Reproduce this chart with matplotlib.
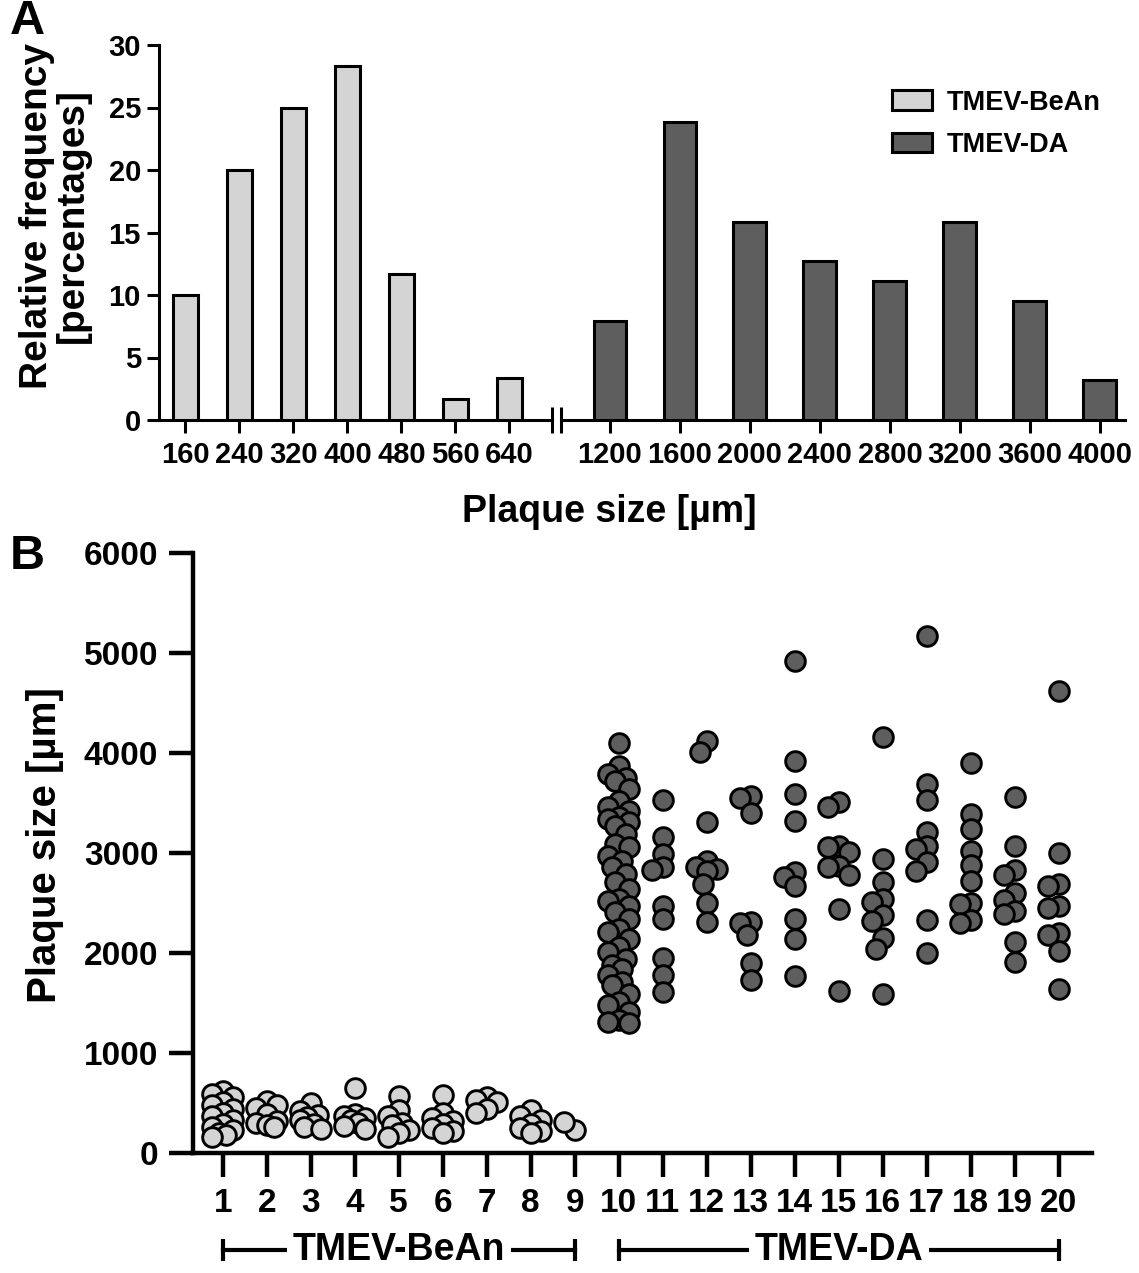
import numpy as np
import matplotlib
matplotlib.use("Agg")
import matplotlib.pyplot as plt
from matplotlib.transforms import blended_transform_factory

plt.rcParams['font.family'] = ['Liberation Sans', 'DejaVu Sans']
plt.rcParams['font.weight'] = 'bold'

BEAN_COLOR = '#d4d4d4'
DA_COLOR = '#5e5e5e'

# panel A: relative frequency of plaque sizes
bean_bins = ['160', '240', '320', '400', '480', '560', '640']
bean_freq = [10.0, 20.0, 25.0, 28.33, 11.67, 1.67, 3.33]
da_bins = ['1200', '1600', '2000', '2400', '2800', '3200', '3600', '4000']
da_freq = [7.94, 23.81, 15.87, 12.70, 11.11, 15.87, 9.52, 3.17]

# panel B: plaque size per isolate (µm)
iso1 = [620, 590, 560, 510, 480, 440, 400, 370, 330, 290, 260, 230, 200, 180, 160]
iso2 = [520, 480, 450, 390, 320, 300, 280, 260]
iso3 = [500, 420, 380, 360, 330, 290, 260, 240]
iso4 = [650, 390, 370, 350, 330, 300, 270, 240]
iso5 = [570, 430, 370, 300, 280, 230, 200, 160]
iso6 = [580, 400, 350, 320, 290, 250, 220, 200]
iso7 = [560, 530, 510, 440, 400]
iso8 = [430, 370, 330, 290, 250, 220, 200]
iso9 = [230, 310]
iso10 = [4098, 3872, 3789, 3755, 3722, 3639, 3523, 3456, 3423, 3357, 3340, 3307,
         3273, 3190, 3091, 3058, 2974, 2924, 2858, 2792, 2709, 2642, 2542, 2525,
         2475, 2410, 2343, 2243, 2210, 2144, 2060, 2011, 1944, 1877, 1844, 1778,
         1711, 1678, 1595, 1512, 1479, 1413, 1329, 1313, 1296]
iso11 = [3529, 3157, 2991, 2860, 2835, 2470, 2336, 1954, 1778, 1612]
iso12 = [4121, 4011, 3307, 2924, 2860, 2840, 2820, 2692, 2500, 2310]
iso13 = [3572, 3546, 3397, 2310, 2300, 2183, 1904, 1728]
iso14 = [4918, 3921, 3589, 3323, 2809, 2759, 2675, 2343, 2144, 1768]
iso15 = [3513, 3456, 3074, 3060, 3014, 2875, 2859, 2782, 2436, 1618]
iso16 = [4164, 2941, 2709, 2542, 2515, 2383, 2316, 2150, 2037, 1588]
iso17 = [5168, 3689, 3532, 3207, 3074, 3041, 2908, 2818, 2326, 2001]
iso18 = [3905, 3390, 3240, 3018, 2884, 2719, 2502, 2493, 2326, 2300]
iso19 = [3556, 3074, 2835, 2782, 2602, 2535, 2416, 2393, 2111, 1911]
iso20 = [4619, 2998, 2692, 2675, 2470, 2450, 2203, 2183, 2017, 1645]

plaques = [iso1, iso2, iso3, iso4, iso5, iso6, iso7, iso8, iso9, iso10,
           iso11, iso12, iso13, iso14, iso15, iso16, iso17, iso18, iso19, iso20]
n_bean = 9

W, H = 1139, 1273
fig = plt.figure(figsize=(W / 100, H / 100), dpi=100)


def box(l, t, r, b):
    return [l / W, 1 - b / H, (r - l) / W, (b - t) / H]


# ---------- panel A ----------
axL = fig.add_axes(box(159, 45, 552, 420))
axR = fig.add_axes(box(561, 45, 1125, 420))

xl = np.arange(len(bean_bins))
xr = np.arange(len(da_bins))
bl = axL.bar(xl, bean_freq, width=0.47, color=BEAN_COLOR, edgecolor='black',
             linewidth=2.2, label='TMEV-BeAn', zorder=3)
br = axR.bar(xr, da_freq, width=0.47, color=DA_COLOR, edgecolor='black',
             linewidth=2.2, label='TMEV-DA', zorder=3)

axL.set_xlim(-0.49, 6.79)
axR.set_xlim(-0.70, 7.36)
for ax in (axL, axR):
    ax.set_ylim(0, 30)
    ax.set_yticks(range(0, 31, 5))
    for s in ('top', 'right'):
        ax.spines[s].set_visible(False)
    for s in ('left', 'bottom'):
        ax.spines[s].set_linewidth(2.2)
    ax.tick_params(width=2.2, length=9, labelsize=21, pad=4)
    ax.tick_params(axis='x', pad=6)
axL.set_xticks(xl, bean_bins)
axR.set_xticks(xr, da_bins)
axR.spines['left'].set_visible(False)
axR.tick_params(axis='y', left=False, labelleft=False)

# axis break marks
for ax, xa in ((axL, 1), (axR, 0)):
    ax.plot([xa, xa], [-0.034, 0.034], transform=ax.transAxes, color='black',
            lw=2.2, clip_on=False, solid_capstyle='butt')

axR.legend(handles=[bl, br], loc='upper right', frameon=False, fontsize=19.5,
           bbox_to_anchor=(1114 / W, 1 - 76 / H), bbox_transform=fig.transFigure,
           handlelength=1.45, handleheight=0.72, handletextpad=0.55,
           labelspacing=0.6, borderpad=0)

fig.text(55 / W, 1 - 216 / H, 'Relative frequency\n[percentages]', rotation=90,
         ha='center', va='center', fontsize=28, linespacing=1.0,
         multialignment='center')
fig.text(609 / W, 1 - 512 / H, 'Plaque size [µm]', ha='center', va='center',
         fontsize=27)
fig.text(10 / W, 1 - 22 / H, 'A', ha='left', va='center', fontsize=35)

# ---------- panel B ----------
axB = fig.add_axes(box(193, 553, 1092, 1153))
X_PX, Y_PX = 44.0, 0.1  # pixels per x unit / per µm


def spread(pos, vals, step=0.08, diam=13.0):
    # nudge overlapping dots sideways, like a column scatter plot
    placed = []
    xs = []
    for v in vals:
        best, best_d = pos, -1
        for k in (0, -1, 1, -2, 2, -3, 3):
            x = pos + k * step
            if placed:
                d = min(np.hypot((x - px) * X_PX, (v - py) * Y_PX) for px, py in placed)
            else:
                d = np.inf
            if d >= diam:
                best = x
                break
            if d > best_d:
                best, best_d = x, d
        placed.append((best, v))
        xs.append(best)
    return xs


for i, vals in enumerate(plaques):
    g = i + 1
    col = BEAN_COLOR if g <= n_bean else DA_COLOR
    axB.scatter(spread(g, vals), vals, s=200, c=col, edgecolors='black',
                linewidths=2.1, zorder=3, clip_on=False)

axB.set_xlim(0.325, 20.76)
axB.set_ylim(0, 6000)
axB.set_xticks(range(1, len(plaques) + 1))
axB.set_yticks(range(0, 6001, 1000))
for s in ('top', 'right'):
    axB.spines[s].set_visible(False)
for s in ('left', 'bottom'):
    axB.spines[s].set_linewidth(3.2)
axB.tick_params(width=3.2, length=17, labelsize=24)
axB.tick_params(axis='x', pad=8)
axB.tick_params(axis='y', pad=8)

trans = blended_transform_factory(axB.transData, axB.transAxes)
for lo, hi, name in ((1, n_bean, 'TMEV-BeAn'), (n_bean + 1, len(plaques), 'TMEV-DA')):
    axB.plot([lo, hi], [-0.162, -0.162], transform=trans, color='black', lw=3,
             clip_on=False, marker='|', ms=16, mew=3)
    axB.text((lo + hi) / 2, -0.162, name, transform=trans, ha='center',
             va='center', fontsize=27,
             bbox=dict(fc='white', ec='none', pad=4))

fig.text(45 / W, 1 - 845 / H, 'Plaque size [µm]', rotation=90, ha='center',
         va='center', fontsize=29)
fig.text(10 / W, 1 - 556 / H, 'B', ha='left', va='center', fontsize=35)

fig.savefig('out.png', dpi=100)
